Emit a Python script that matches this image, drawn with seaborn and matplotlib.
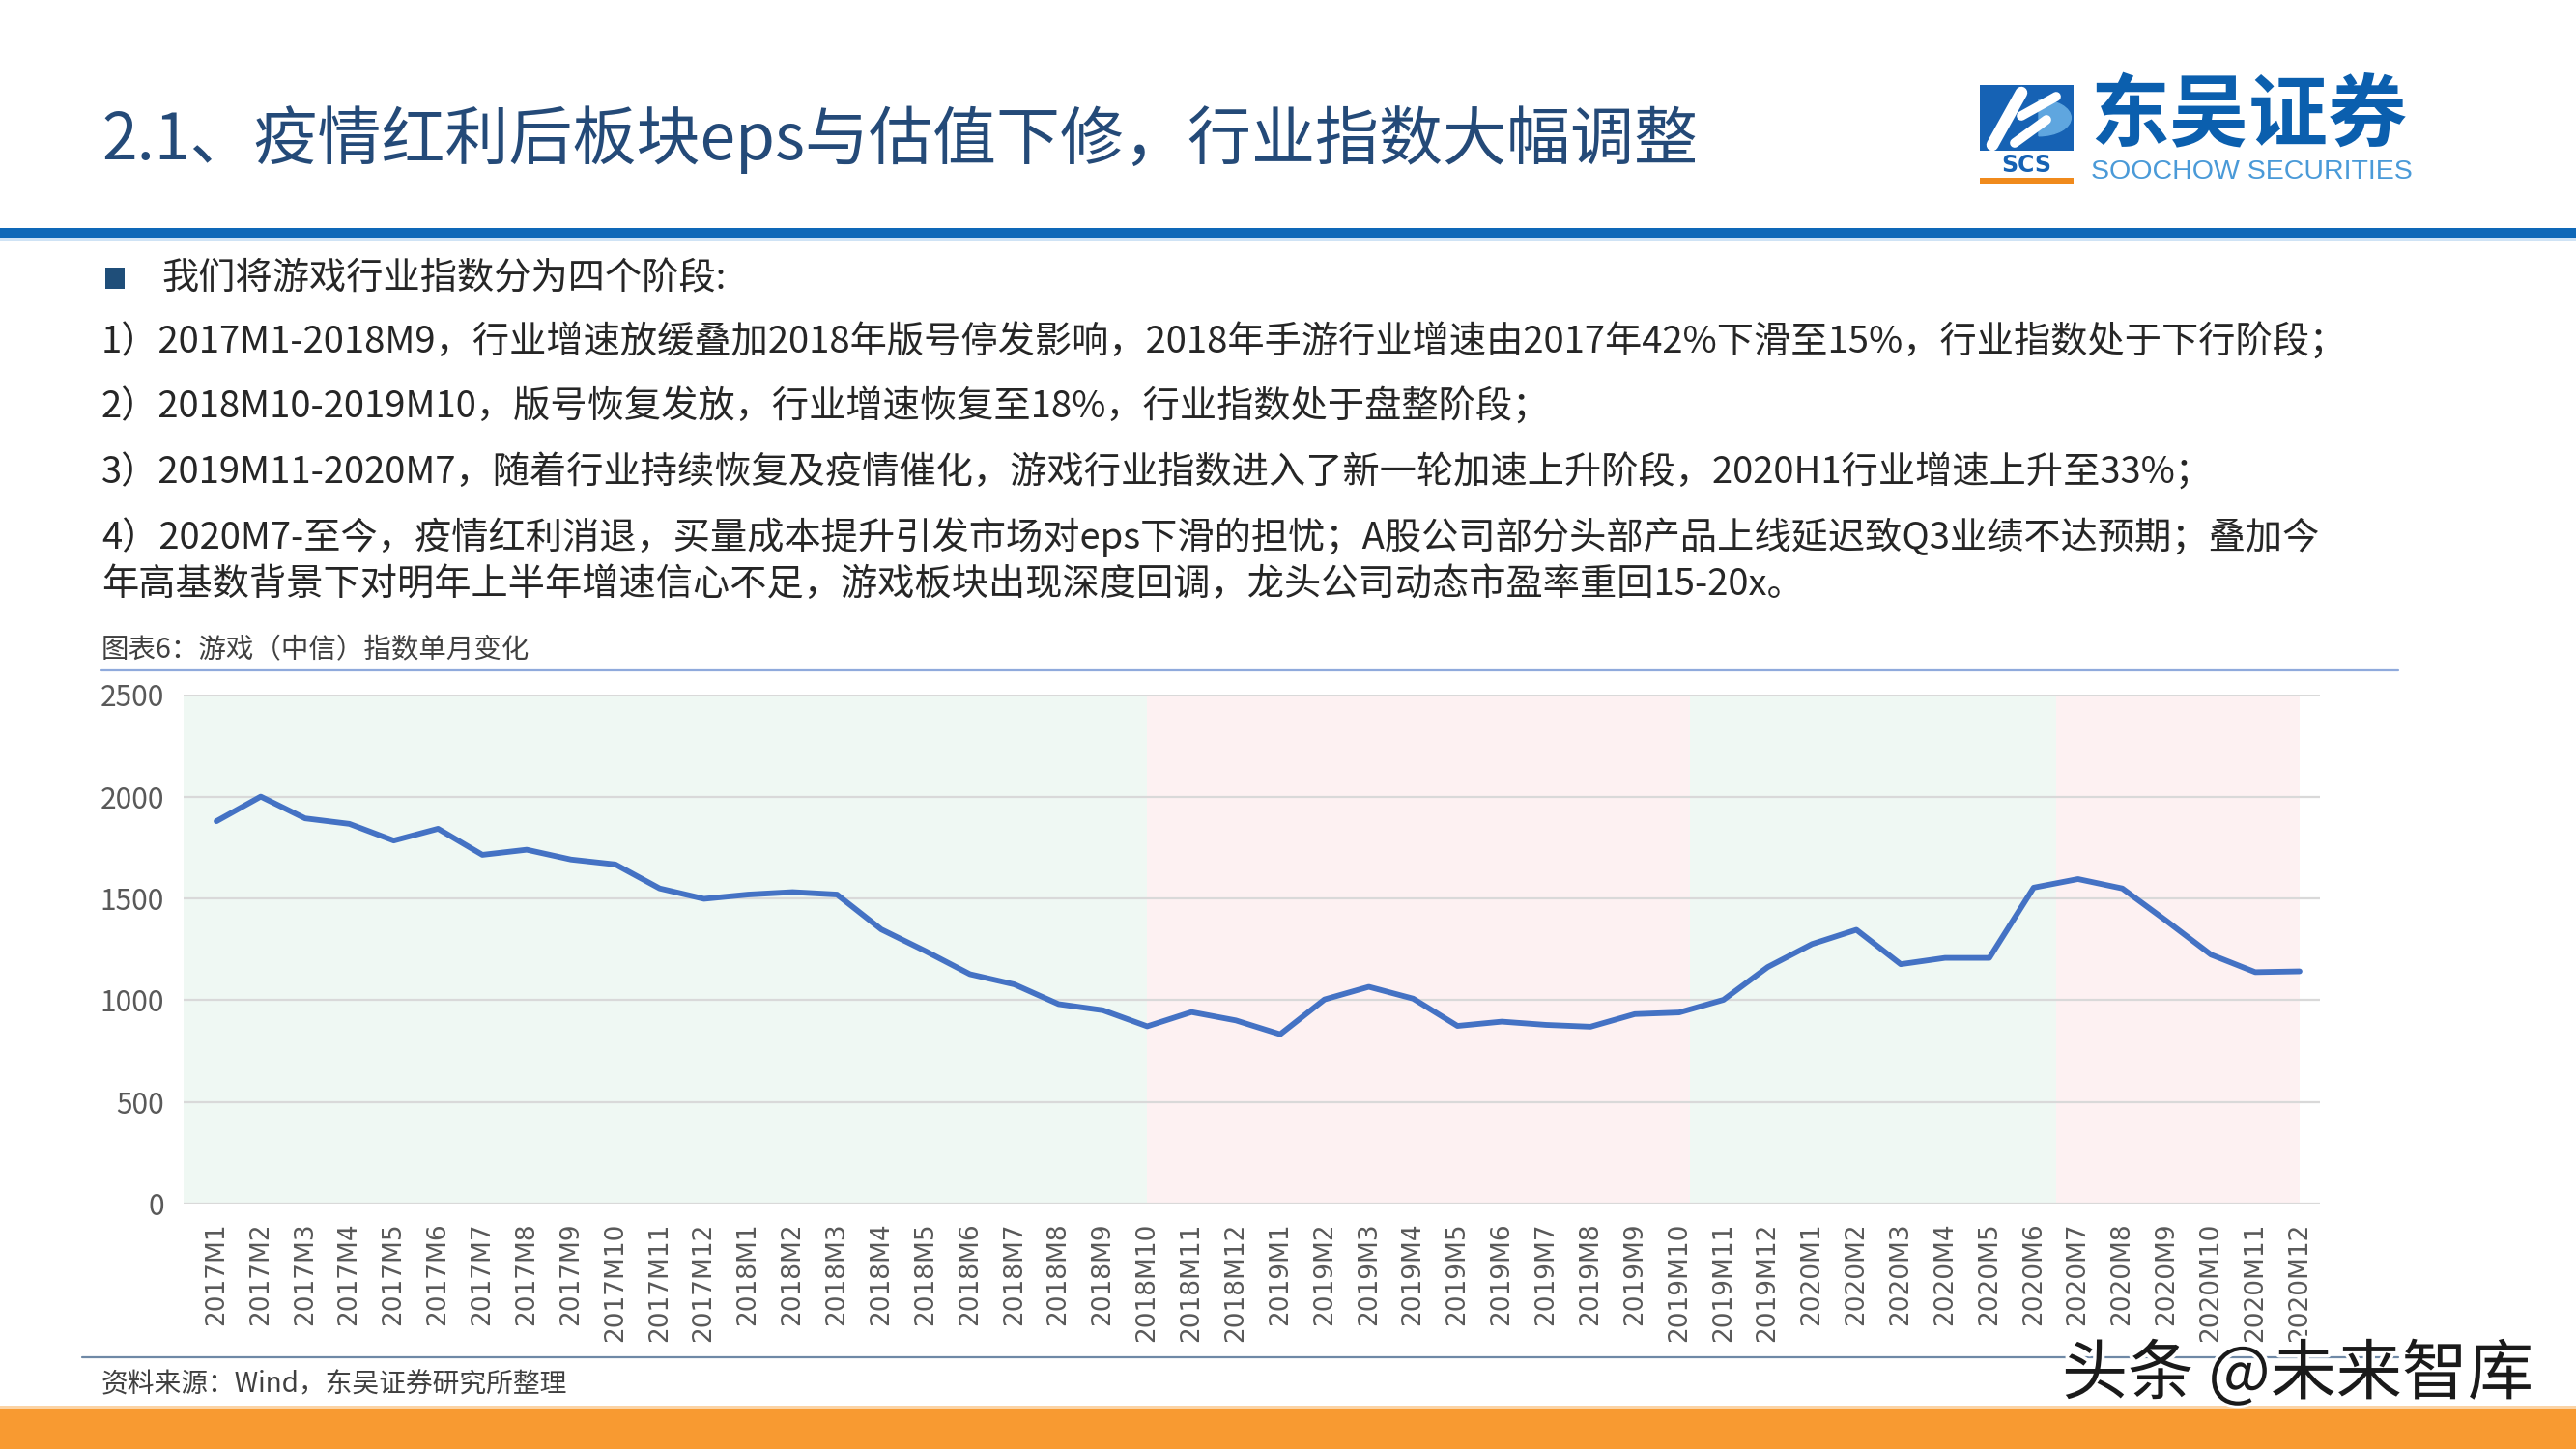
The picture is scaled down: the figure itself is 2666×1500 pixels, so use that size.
import matplotlib
matplotlib.use("Agg")
import matplotlib.pyplot as plt
import matplotlib.patches as mpatches
import matplotlib.patheffects as pe
import numpy as np
import pandas as pd
import seaborn as sns

# ---------------- data ----------------
months = [f"{y}M{m}" for y in (2017, 2018, 2019, 2020) for m in range(1, 13)]
index_values = [
    1879, 2000, 1893, 1866, 1784, 1842, 1714, 1739, 1691, 1667, 1549, 1498,
    1519, 1531, 1519, 1348, 1241, 1128, 1078, 981, 951, 872, 942, 901,
    833, 1004, 1066, 1008, 874, 895, 879, 870, 932, 940, 1002, 1163,
    1276, 1346, 1177, 1208, 1208, 1553, 1595, 1549, 1389, 1224, 1138, 1142,
]
# stages (start, end) in month positions and their colours
stage_bounds = [(-0.75, 21), (21, 33.25), (33.25, 41.5), (41.5, 47)]
stage_colors = ["#EFF8F3", "#FDF1F2", "#EFF8F3", "#FDF1F2"]
y_ticks = [0, 500, 1000, 1500, 2000, 2500]

title = "2.1、疫情红利后板块eps与估值下修，行业指数大幅调整"
bullet_head = "我们将游戏行业指数分为四个阶段:"
body_lines = [
    "1）2017M1-2018M9，行业增速放缓叠加2018年版号停发影响，2018年手游行业增速由2017年42%下滑至15%，行业指数处于下行阶段；",
    "2）2018M10-2019M10，版号恢复发放，行业增速恢复至18%，行业指数处于盘整阶段；",
    "3）2019M11-2020M7，随着行业持续恢复及疫情催化，游戏行业指数进入了新一轮加速上升阶段，2020H1行业增速上升至33%；",
    "4）2020M7-至今，疫情红利消退，买量成本提升引发市场对eps下滑的担忧；A股公司部分头部产品上线延迟致Q3业绩不达预期；叠加今",
    "年高基数背景下对明年上半年增速信心不足，游戏板块出现深度回调，龙头公司动态市盈率重回15-20x。",
]
chart_title = "图表6：游戏（中信）指数单月变化"
source = "资料来源：Wind，东吴证券研究所整理"
watermark = "头条 @未来智库"

# ---------------- setup ----------------
sns.set_theme(style="white")
CJK = ["Noto Sans CJK SC", "DejaVu Sans"]
plt.rcParams["font.family"] = CJK

W, H = 2666, 1500
fig = plt.figure(figsize=(W / 100, H / 100), dpi=100)
fig.patch.set_facecolor("white")


def fx(x):
    return x / W


def fy(y):
    return 1 - y / H


def rect(x0, y0, x1, y1, color, z=1):
    fig.add_artist(mpatches.Rectangle((fx(x0), fy(y1)), fx(x1 - x0), (y1 - y0) / H,
                                      transform=fig.transFigure, color=color, lw=0, zorder=z))


def hline(x0, x1, y, color, lw):
    fig.add_artist(plt.Line2D([fx(x0), fx(x1)], [fy(y), fy(y)], transform=fig.transFigure,
                              color=color, lw=lw))


# header
fig.text(fx(105), fy(145), title, fontsize=47.5, color="#244A78", va="center", ha="left")
rect(0, 236, W, 246, "#0E68B8")
rect(0, 246, W, 250, "#CFE3F5")

# logo
rect(2049, 88, 2146, 156, "#1662B4", z=2)
fig.add_artist(mpatches.Wedge((fx(2110), fy(122)), 0.0125, -90, 90, transform=fig.transFigure,
                              color="#5FA6DF", zorder=3))
fig.add_artist(plt.Line2D([fx(2062), fx(2092)], [fy(150), fy(96)], transform=fig.transFigure,
                          color="white", lw=9, zorder=4, solid_capstyle="round"))
fig.add_artist(plt.Line2D([fx(2092), fx(2128)], [fy(120), fy(100)], transform=fig.transFigure,
                          color="white", lw=7, zorder=4, solid_capstyle="round"))
fig.add_artist(plt.Line2D([fx(2085), fx(2118)], [fy(148), fy(124)], transform=fig.transFigure,
                          color="white", lw=7, zorder=4, solid_capstyle="round"))
fig.text(fx(2097), fy(171), "SCS", fontsize=17, fontweight="bold", color="#1662B4",
         ha="center", va="center", family=["DejaVu Sans"])
rect(2049, 184, 2146, 190, "#F08A1C", z=2)
fig.text(fx(2163), fy(122), "东吴证券", fontsize=59, fontweight="black", color="#0B5FAE",
         ha="left", va="center")
fig.text(fx(2164), fy(178), "SOOCHOW SECURITIES", fontsize=20.5, color="#4A9AD8",
         ha="left", va="center", family=["Liberation Sans"])

# body text
rect(109, 277, 129, 299, "#1F4E79")
fig.text(fx(167), fy(289), bullet_head, fontsize=27.5, color="#262626", va="center", ha="left")
for txt, yy in zip(body_lines, [355, 422, 490, 556, 605]):
    fig.text(fx(105), fy(yy), txt, fontsize=27.5, color="#262626", va="center", ha="left")

# chart title + rule
fig.text(fx(105), fy(673), chart_title, fontsize=20.5, color="#404040", va="center", ha="left")
hline(105, 2482, 694, "#8FAADC", 1.6)

# ---------------- chart ----------------
ax = fig.add_axes([fx(189.6), fy(1246.3), fx(2400.6 - 189.6), (1246.3 - 719.2) / H])
ax.set_facecolor("white")
for (a, b), c in zip(stage_bounds, stage_colors):
    ax.axvspan(a, b, ymin=0, ymax=0.997, color=c, lw=0, zorder=0)
for t in y_ticks:
    ax.axhline(t, color="#D9D9D9", lw=1.6, zorder=1)

df = pd.DataFrame({"pos": np.arange(len(months)), "month": months, "value": index_values})
sns.lineplot(data=df, x="pos", y="value", ax=ax, color="#4472C4", lw=4.2, zorder=3)

ax.set_xlim(-0.75, 47.45)
ax.set_ylim(0, 2500)
ax.set_yticks(y_ticks)
ax.set_yticklabels([str(t) for t in y_ticks], fontsize=21.5, color="#595959")
ax.set_xticks(df["pos"])
ax.set_xticklabels(months, rotation=90, fontsize=19, color="#595959", family=["DejaVu Sans"])
ax.tick_params(axis="y", length=0, pad=14)
ax.tick_params(axis="x", length=0, pad=14)
ax.set_xlabel("")
ax.set_ylabel("")
ax.grid(False)
for s in ax.spines.values():
    s.set_visible(False)

# footer
hline(85, 2482, 1404.5, "#6F89A6", 1.6)
fig.text(fx(105), fy(1433), source, fontsize=20, color="#404040", va="center", ha="left")
rect(0, 1455, W, 1459, "#FBD3A4")
rect(0, 1459, W, H, "#F89A31")
fig.text(fx(2134), fy(1424), watermark, fontsize=49, color="#1A1A1A", va="center", ha="left",
         path_effects=[pe.withStroke(linewidth=5, foreground="white")], zorder=10)

fig.savefig("out.png", dpi=100, facecolor="white")
